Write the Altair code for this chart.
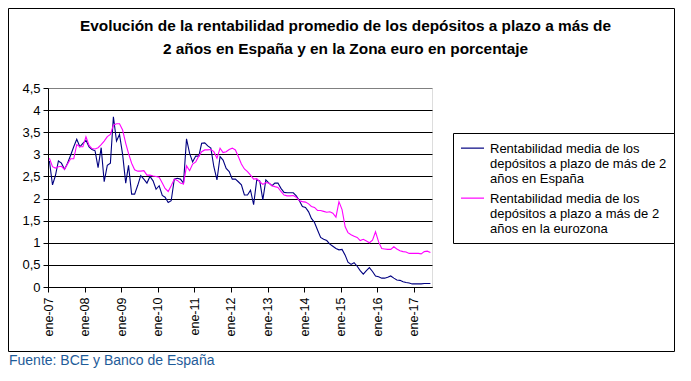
import json
import altair as alt
import pandas as pd

# ---- texts ----
titulo = ["Evolución de la rentabilidad promedio de los depósitos a plazo a más de",
          "2 años en España y en la Zona euro en porcentaje"]
fuente = "Fuente: BCE y Banco de España"
serie_es = "Rentabilidad media de los depósitos a plazo de más de 2 años en España"
serie_ez = "Rentabilidad media de los depósitos a plazo a más de 2 años en la eurozona"
lineas_es = ["Rentabilidad media de los", "depósitos a plazo de más de 2", "años en España"]
lineas_ez = ["Rentabilidad media de los", "depósitos a plazo a más de 2", "años en la eurozona"]

# ---- monthly values, ene-07 .. jun-17 ----
espana = [
    2.85, 2.31, 2.51, 2.85, 2.80, 2.66, 2.80, 2.98, 3.17, 3.34, 3.17, 3.25,
    3.32, 3.17, 3.11, 3.08, 2.70, 3.15, 2.38, 2.75, 2.80, 3.85, 3.30, 3.45,
    3.00, 2.35, 2.75, 2.10, 2.10, 2.30, 2.52, 2.44, 2.35, 2.50, 2.40, 2.21,
    2.29, 2.07, 2.03, 1.91, 1.95, 2.44, 2.46, 2.44, 2.35, 3.35, 3.02, 2.83,
    2.96, 2.96, 3.25, 3.26, 3.19, 3.14, 2.72, 2.42, 2.95, 2.87, 2.68, 2.61,
    2.44, 2.44, 2.38, 2.31, 2.08, 2.08, 2.19, 1.86, 2.42, 2.40, 1.97, 2.42,
    2.35, 2.29, 2.35, 2.35, 2.23, 2.14, 2.13, 2.13, 2.13, 2.06, 1.95, 1.82,
    1.80, 1.70, 1.55, 1.46, 1.29, 1.12, 1.08, 1.05, 0.97, 0.92, 0.87, 0.84,
    0.85, 0.72, 0.56, 0.51, 0.55, 0.47, 0.37, 0.29, 0.37, 0.44, 0.35, 0.25,
    0.23, 0.20, 0.20, 0.22, 0.25, 0.20, 0.16, 0.15, 0.12, 0.10, 0.09, 0.07,
    0.07, 0.07, 0.07, 0.08, 0.08, 0.08,
]
eurozona = [
    2.91, 2.72, 2.69, 2.72, 2.73, 2.66, 2.78, 2.90, 2.90, 3.22, 3.17, 3.17,
    3.40, 3.20, 3.13, 3.12, 3.15, 3.22, 3.30, 3.40, 3.45, 3.66, 3.69, 3.69,
    3.55, 3.25, 3.02, 2.80, 2.65, 2.62, 2.62, 2.63, 2.53, 2.53, 2.51, 2.50,
    2.48, 2.35, 2.23, 2.16, 2.29, 2.44, 2.41, 2.35, 2.33, 2.74, 2.63, 2.78,
    2.83, 2.96, 3.06, 3.10, 3.10, 3.11, 3.06, 2.91, 3.14, 3.04, 3.06, 3.11,
    3.14, 3.10, 2.95, 2.78, 2.67, 2.61, 2.53, 2.44, 2.45, 2.38, 2.32, 2.36,
    2.35, 2.29, 2.27, 2.25, 2.16, 2.08, 2.06, 2.06, 2.07, 2.03, 1.95, 1.93,
    1.92, 1.88, 1.82, 1.80, 1.73, 1.73, 1.71, 1.69, 1.70, 1.67, 1.58, 1.93,
    1.75, 1.36, 1.23, 1.18, 1.15, 1.12, 1.05, 1.08, 1.04, 1.00, 1.06, 1.25,
    1.02, 0.87, 0.86, 0.85, 0.85, 0.91, 0.86, 0.82, 0.80, 0.79, 0.76, 0.76,
    0.76, 0.76, 0.75, 0.80, 0.81, 0.78,
]
fechas = [f"{2007 + i // 12}-{i % 12 + 1:02d}-15" for i in range(len(espana))]
y_ticks = [0, 0.5, 1, 1.5, 2, 2.5, 3, 3.5, 4, 4.5]
x_years = list(range(2007, 2018))


def ms(s):
    return int(pd.Timestamp(s, tz="UTC").value // 10**6)


x_tick_values = [ms(f"{y}-01-01") for y in x_years]
x_domain = [ms("2007-01-01"), ms("2017-07-01")]

df = pd.DataFrame({"fecha": fechas * 2,
                   "serie": [serie_es] * len(espana) + [serie_ez] * len(eurozona),
                   "valor": espana + eurozona})

FONT = "Liberation Sans"

legend_expr = (f"datum.label == {json.dumps(serie_es, ensure_ascii=False)} ? "
               f"{json.dumps(lineas_es, ensure_ascii=False)} : {json.dumps(lineas_ez, ensure_ascii=False)}")

lines = alt.Chart(df).mark_line(strokeWidth=1.1, clip=True).encode(
    x=alt.X("fecha:T",
            scale=alt.Scale(type="utc", domain=x_domain, nice=False),
            axis=alt.Axis(values=x_tick_values, title=None, grid=False,
                          labelExpr="'ene-' + utcFormat(datum.value, '%y')",
                          labelAngle=270, labelAlign="right", labelBaseline="middle",
                          labelFont=FONT, labelFontSize=12.5, labelColor="black",
                          tickSize=5, tickColor="black", domainColor="black",
                          labelPadding=5, labelOverlap=False)),
    y=alt.Y("valor:Q",
            scale=alt.Scale(domain=[0, 4.5], nice=False, zero=True),
            axis=alt.Axis(values=y_ticks, title=None,
                          labelExpr="replace(toString(datum.value), '.', ',')",
                          labelFont=FONT, labelFontSize=13, labelColor="black",
                          tickSize=5, tickColor="black", domainColor="black",
                          labelPadding=3,
                          gridColor={"condition": {"test": "datum.value >= 4.5", "value": "#808080"},
                                     "value": "black"},
                          gridWidth=1, gridOpacity=1)),
    color=alt.Color("serie:N",
                    scale=alt.Scale(domain=[serie_es, serie_ez], range=["#000080", "#FF00FF"]),
                    legend=alt.Legend(orient="none", legendX=405, legendY=45, title=None,
                                      labelExpr=legend_expr, labelFont=FONT, labelFontSize=13,
                                      labelColor="black", labelLimit=0, labelBaseline="alphabetic",
                                      symbolType="M-1,-0.38H1", symbolSize=529, symbolStrokeWidth=1.2,
                                      labelOffset=5, rowPadding=4, padding=7,
                                      strokeColor="black", fillColor="white")),
)

frame = alt.Chart(alt.Data(values=[{}])).mark_rect(
    filled=False, stroke="black", strokeWidth=1
).encode(x=alt.value(-39.5), x2=alt.value(626.5), y=alt.value(-79.5), y2=alt.value(263.5))

title = alt.Chart(alt.Data(values=[{}])).mark_text(
    text=titulo, font=FONT, fontSize=15.4, fontWeight="bold", align="center",
    baseline="alphabetic", lineHeight=23, color="black"
).encode(x=alt.value(297.5), y=alt.value(-57))

source = alt.Chart(alt.Data(values=[{}])).mark_text(
    text=fuente, font=FONT, fontSize=14, align="left", baseline="alphabetic", color="#1F5C99"
).encode(x=alt.value(-39), y=alt.value(277))

chart = alt.layer(frame, title, lines, source).properties(
    width=384, height=199,
    padding={"left": 40, "top": 80, "right": 251, "bottom": 82},
    autosize=alt.AutoSizeParams(type="none"),
    background="white",
).configure_view(fill="#C0C0C0", stroke="#808080", strokeWidth=1).configure(font=FONT)

chart.save("out.html", embed_options={"renderer": "svg", "actions": False})
